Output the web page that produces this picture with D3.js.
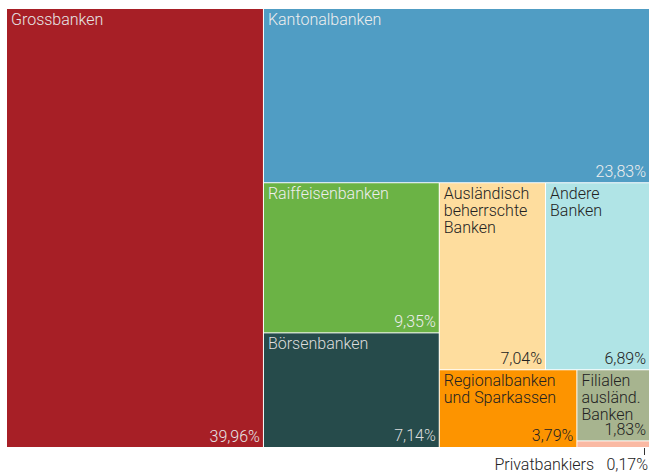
<!DOCTYPE html>
<html>
<head>
<meta charset="utf-8">
<script src="https://cdn.jsdelivr.net/npm/d3@7"></script>
<style>
  body { margin: 0; background: #fff; }
  text { font-family: Roboto, sans-serif; font-weight: 300; font-size: 16px; }
</style>
</head>
<body>
<svg id="chart" width="649" height="473"></svg>
<script>
var names = ["Grossbanken", "Kantonalbanken", "Raiffeisenbanken", "Börsenbanken",
  "Ausländisch beherrschte Banken", "Andere Banken", "Regionalbanken und Sparkassen",
  "Filialen ausländ. Banken", "Privatbankiers"];
var labelLines = [["Grossbanken"], ["Kantonalbanken"], ["Raiffeisenbanken"], ["Börsenbanken"],
  ["Ausländisch", "beherrschte", "Banken"], ["Andere", "Banken"], ["Regionalbanken", "und Sparkassen"],
  ["Filialen", "ausländ.", "Banken"], ["Privatbankiers"]];
var shares = [39.96, 23.83, 9.35, 7.14, 7.04, 6.89, 3.79, 1.83, 0.17];
var colors = ["#a71f26", "#509dc4", "#6bb345", "#264b4b", "#fedd9e", "#b0e4e6", "#fd9400", "#a7b48f", "#fab9a3"];
var textColors = ["#e6e6e6", "#eeeeee", "#eeeeee", "#dddddd", "#222", "#222", "#222", "#222", "#222"];

var marginLeft = 7, marginTop = 9, cw = 642, ch = 438;
var fmt = d3.formatLocale({decimal: ",", thousands: ".", grouping: [3], currency: ["", ""]}).format(".2f");

var root = d3.hierarchy({children: names.map(function(n, i) { return {i: i, value: shares[i]}; })})
  .sum(function(d) { return d.value || 0; })
  .sort(function(a, b) { return b.value - a.value; });

d3.treemap()
  .tile(d3.treemapSquarify.ratio(1))
  .size([cw, ch])
  .paddingInner(1)
  (root);

var svg = d3.select("#chart");
var g = svg.append("g").attr("transform", "translate(" + marginLeft + "," + marginTop + ")");

var cell = g.selectAll("g.cell").data(root.leaves()).enter().append("g")
  .attr("class", "cell")
  .attr("transform", function(d) { return "translate(" + d.x0 + "," + d.y0 + ")"; });

cell.append("rect")
  .attr("width", function(d) { return d.x1 - d.x0; })
  .attr("height", function(d) { return d.y1 - d.y0; })
  .style("fill", function(d) { return colors[d.data.i]; });

var inside = cell.filter(function(d) { return d.data.i < 8; });

inside.append("text")
  .style("fill", function(d) { return textColors[d.data.i]; })
  .selectAll("tspan").data(function(d) { return labelLines[d.data.i]; }).enter().append("tspan")
  .attr("x", 4)
  .attr("y", function(l, k) { return 15.5 + k * 17.2; })
  .text(function(l) { return l; });

inside.append("text")
  .attr("x", function(d) { return d.x1 - d.x0 - 3; })
  .attr("y", function(d) { return d.y1 - d.y0 - 5.5; })
  .attr("text-anchor", "end")
  .style("fill", function(d) { return textColors[d.data.i]; })
  .text(function(d) { return fmt(d.data.value) + "%"; });

// the smallest cell gets its label outside, below the chart
var small = root.leaves().filter(function(d) { return d.data.i === 8; })[0];
g.append("line")
  .attr("x1", small.x1 - 4.5).attr("x2", small.x1 - 4.5)
  .attr("y1", ch + 1).attr("y2", ch + 8)
  .style("stroke", "#333").style("stroke-width", 1);
g.append("text")
  .attr("x", small.x1 - 1).attr("y", ch + 23)
  .attr("text-anchor", "end")
  .style("fill", "#222")
  .text(fmt(small.data.value) + "%");
g.append("text")
  .attr("x", small.x1 - 55).attr("y", ch + 23)
  .attr("text-anchor", "end")
  .style("fill", "#222")
  .text(names[8]);
</script>
</body>
</html>
